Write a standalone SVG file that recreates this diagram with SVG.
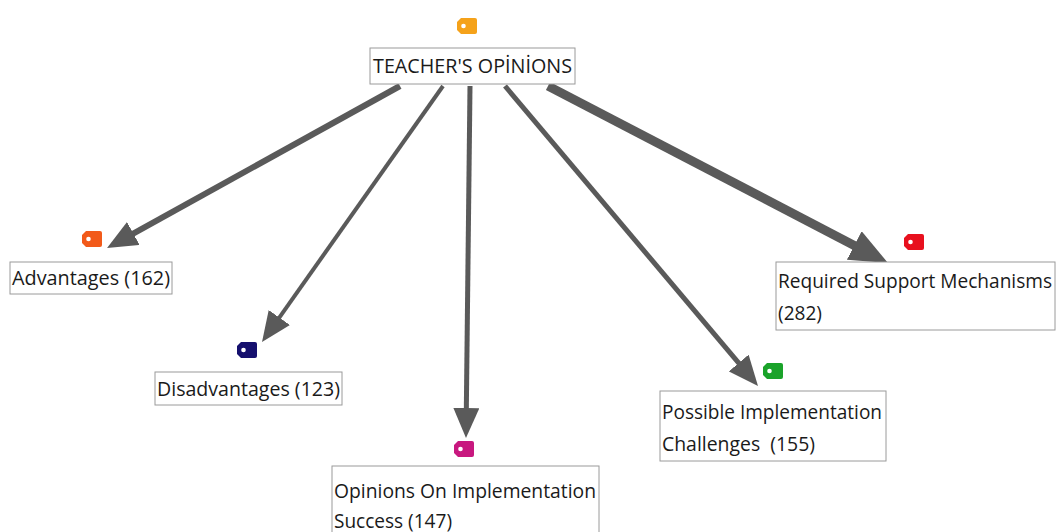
<svg xmlns="http://www.w3.org/2000/svg" width="1056" height="532" viewBox="0 0 1056 532">
<style>
.box{fill:#fff;stroke:#9a9a9a;stroke-width:1}
.t{font-family:"Open Sans","Noto Sans","Liberation Sans",sans-serif;font-size:19.5px;fill:#1a1a1a}
.edge{stroke:#5a5a5a;fill:none;stroke-linecap:butt}
.dot{fill:#fff}
</style>
<defs>
<marker id="ah" markerUnits="userSpaceOnUse" viewBox="0 0 30 26" refX="12" refY="13" markerWidth="30" markerHeight="26" orient="auto">
<path d="M0,0 L30,13 L0,26 z" fill="#5a5a5a"/>
</marker>
<marker id="ahL" markerUnits="userSpaceOnUse" viewBox="0 0 38 32" refX="14" refY="16" markerWidth="38" markerHeight="32" orient="auto">
<path d="M0,0 L38,16 L0,32 z" fill="#5a5a5a"/>
</marker>
<g id="tag"><path d="M4,0 H18 a2,2 0 0 1 2,2 V14 a2,2 0 0 1 -2,2 H4 L0,12 V4 z"/><circle class="dot" cx="6.5" cy="8" r="2.3"/></g>
</defs>
<rect width="1056" height="532" fill="#fff"/>
<g id="connectors">
<line class="edge" x1="400" y1="86" x2="122.8" y2="239.3" stroke-width="6" marker-end="url(#ah)"/>
<line class="edge" x1="443" y1="86" x2="272.4" y2="327.3" stroke-width="4" marker-end="url(#ah)"/>
<line class="edge" x1="470" y1="86" x2="466.2" y2="420" stroke-width="5" marker-end="url(#ah)"/>
<line class="edge" x1="505" y1="86" x2="746.4" y2="372.2" stroke-width="5" marker-end="url(#ah)"/>
<line class="edge" x1="548" y1="86" x2="866.7" y2="251.9" stroke-width="9" marker-end="url(#ahL)"/>
</g>
<g id="root">
<use href="#tag" x="457" y="18" fill="#f5a21a"/>
<rect class="box" x="370" y="48" width="205" height="36"/>
<text class="t" x="373" y="73" textLength="199" lengthAdjust="spacingAndGlyphs">TEACHER'S OPİNİONS</text>
</g>
<g id="advantages">
<use href="#tag" x="82" y="231" fill="#f25a1a"/>
<rect class="box" x="10" y="262" width="162" height="32"/>
<text class="t" x="12" y="285" textLength="158" lengthAdjust="spacingAndGlyphs">Advantages (162)</text>
</g>
<g id="disadvantages">
<use href="#tag" x="237" y="342" fill="#15106e"/>
<rect class="box" x="155" y="372" width="187" height="33"/>
<text class="t" x="157" y="396" textLength="183" lengthAdjust="spacingAndGlyphs">Disadvantages (123)</text>
</g>
<g id="success">
<use href="#tag" x="454" y="441" fill="#c8187f"/>
<rect class="box" x="332" y="466" width="267" height="70"/>
<text class="t" x="334" y="498" textLength="262" lengthAdjust="spacingAndGlyphs">Opinions On Implementation</text>
<text class="t" x="334" y="528" textLength="118" lengthAdjust="spacingAndGlyphs">Success (147)</text>
</g>
<g id="challenges">
<use href="#tag" x="763" y="363" fill="#1aa32a"/>
<rect class="box" x="660" y="391" width="226" height="70"/>
<text class="t" x="662" y="419" textLength="220" lengthAdjust="spacingAndGlyphs">Possible Implementation</text>
<text class="t" x="662" y="451" xml:space="preserve" textLength="153" lengthAdjust="spacingAndGlyphs">Challenges  (155)</text>
</g>
<g id="support">
<use href="#tag" x="904" y="234" fill="#e8101e"/>
<rect class="box" x="776" y="262" width="279" height="68"/>
<text class="t" x="778" y="288" textLength="274" lengthAdjust="spacingAndGlyphs">Required Support Mechanisms</text>
<text class="t" x="778" y="320" textLength="44" lengthAdjust="spacingAndGlyphs">(282)</text>
</g>
</svg>
